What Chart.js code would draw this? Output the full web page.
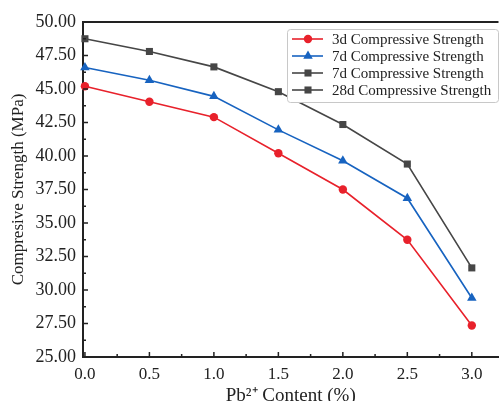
<!DOCTYPE html>
<html>
<head>
<meta charset="utf-8">
<script src="https://cdn.jsdelivr.net/npm/chart.js@4"></script>
<style>
  html, body { margin: 0; padding: 0; background: #fff; overflow: hidden; }
  #wrap { width: 504px; height: 401px; }
</style>
</head>
<body>
<div id="wrap"><canvas id="strengthChart" width="504" height="401"></canvas></div>
<script>
// Pb2+ content (%) on x, compressive strength (MPa) on y
const pbContent = [0, 0.5, 1.0, 1.5, 2.0, 2.5, 3.0];
const strength3d = [45.2, 44.05, 42.9, 40.2, 37.5, 33.75, 27.35];
const strength7d = [46.6, 45.65, 44.45, 41.95, 39.65, 36.85, 29.4];
const strength7dDup = []; // listed in the legend, no line plotted
const strength28d = [48.75, 47.8, 46.65, 44.8, 42.35, 39.4, 31.65];
const seriesNames = ['3d Compressive Strength', '7d Compressive Strength', '7d Compressive Strength', '28d Compressive Strength'];
const xTickValues = [0, 0.5, 1.0, 1.5, 2.0, 2.5, 3.0];
const yTickValues = [25, 27.5, 30, 32.5, 35, 37.5, 40, 42.5, 45, 47.5, 50];

const FONT = 'Liberation Serif';
const AXIS_COLOR = '#222';

const toPoints = vals => vals.map((v, i) => ({ x: pbContent[i], y: v }));

// inward major/minor ticks plus the top frame line
const frameTicks = {
    id: 'frameTicks',
    afterDatasetsDraw(chart) {
        const { ctx, chartArea, scales } = chart;
        const xs = scales.x, ys = scales.y;
        ctx.save();
        ctx.strokeStyle = AXIS_COLOR;
        ctx.lineWidth = 1.5;
        ctx.beginPath();
        xTickValues.forEach((v, i) => {
            const px = xs.getPixelForValue(v);
            ctx.moveTo(px, chartArea.bottom);
            ctx.lineTo(px, chartArea.bottom - 5);
            if (i < xTickValues.length - 1) {
                const mx = xs.getPixelForValue((v + xTickValues[i + 1]) / 2);
                ctx.moveTo(mx, chartArea.bottom);
                ctx.lineTo(mx, chartArea.bottom - 3);
            }
        });
        yTickValues.forEach((v, i) => {
            const py = ys.getPixelForValue(v);
            ctx.moveTo(chartArea.left, py);
            ctx.lineTo(chartArea.left + 5, py);
            if (i < yTickValues.length - 1) {
                const my = ys.getPixelForValue((v + yTickValues[i + 1]) / 2);
                ctx.moveTo(chartArea.left, my);
                ctx.lineTo(chartArea.left + 3, my);
            }
        });
        ctx.stroke();
        ctx.lineWidth = 2;
        ctx.beginPath();
        ctx.moveTo(chartArea.left, chartArea.top);
        ctx.lineTo(chartArea.right, chartArea.top);
        ctx.stroke();
        ctx.restore();
    }
};

// legend box in the upper right, line + marker per entry
const boxLegend = {
    id: 'boxLegend',
    afterDraw(chart) {
        const ctx = chart.ctx;
        const bx = 287, by = 29, bw = 211, bh = 73, r = 3;
        ctx.save();
        ctx.fillStyle = '#fff';
        ctx.strokeStyle = '#c8c8c8';
        ctx.lineWidth = 1;
        ctx.beginPath();
        ctx.roundRect(bx + 0.5, by + 0.5, bw, bh, r);
        ctx.fill();
        ctx.stroke();

        ctx.font = '15px "' + FONT + '"';
        ctx.textBaseline = 'middle';
        chart.data.datasets.forEach((ds, i) => {
            const y = by + 10 + i * 17;
            ctx.strokeStyle = ds.borderColor;
            ctx.lineWidth = ds.borderWidth;
            ctx.beginPath();
            ctx.moveTo(bx + 5, y);
            ctx.lineTo(bx + 36, y);
            ctx.stroke();
            ctx.fillStyle = ds.pointBackgroundColor;
            ctx.strokeStyle = ds.pointBackgroundColor;
            Chart.helpers.drawPoint(ctx, { pointStyle: ds.pointStyle, rotation: 0, radius: ds.pointRadius, borderWidth: 0 }, bx + 21, y);
            ctx.fillStyle = '#222';
            ctx.fillText(ds.label, bx + 45, y + 1);
        });
        ctx.restore();
    }
};

const makeSet = (label, data, color, style, radius) => ({
    label: label,
    data: toPoints(data),
    borderColor: color,
    backgroundColor: color,
    pointBackgroundColor: color,
    pointBorderColor: color,
    pointBorderWidth: 0,
    pointStyle: style,
    pointRadius: radius,
    borderWidth: 1.6,
    tension: 0
});

new Chart(document.getElementById('strengthChart'), {
    type: 'line',
    data: {
        datasets: [
            makeSet(seriesNames[0], strength3d, '#e8212b', 'circle', 4.2),
            makeSet(seriesNames[1], strength7d, '#1763c0', 'triangle', 5.5),
            makeSet(seriesNames[2], strength7dDup, '#464646', 'rect', 5),
            makeSet(seriesNames[3], strength28d, '#464646', 'rect', 5)
        ]
    },
    options: {
        responsive: false,
        animation: false,
        clip: false,
        layout: { padding: { top: 22, right: 0, bottom: 0, left: 0 } },
        plugins: { legend: { display: false }, tooltip: { enabled: false } },
        scales: {
            x: {
                type: 'linear',
                min: -0.015,
                max: 3.207,
                afterBuildTicks: s => { s.ticks = xTickValues.map(v => ({ value: v })); },
                afterFit: s => { s.height = 44; },
                grid: { display: false, drawTicks: false },
                border: { display: true, color: AXIS_COLOR, width: 2 },
                ticks: {
                    color: '#222',
                    padding: 7,
                    font: { family: FONT, size: 17 },
                    callback: v => Number(v).toFixed(1)
                },
                title: {
                    display: true,
                    text: 'Pb\u00B2\u207A Content (%)',
                    color: '#222',
                    font: { family: FONT, size: 19 },
                    padding: { top: 0, bottom: -6 }
                }
            },
            y: {
                type: 'linear',
                min: 25,
                max: 50,
                afterBuildTicks: s => { s.ticks = yTickValues.map(v => ({ value: v })); },
                afterFit: s => { s.width = 83; },
                grid: { display: false, drawTicks: false },
                border: { display: true, color: AXIS_COLOR, width: 2 },
                ticks: {
                    color: '#222',
                    padding: 7,
                    font: { family: FONT, size: 18 },
                    callback: v => Number(v).toFixed(2)
                },
                title: {
                    display: true,
                    text: 'Compresive Strength (MPa)',
                    color: '#222',
                    font: { family: FONT, size: 17 },
                    padding: { top: 8, bottom: 0 }
                }
            }
        }
    },
    plugins: [frameTicks, boxLegend]
});
</script>
</body>
</html>
